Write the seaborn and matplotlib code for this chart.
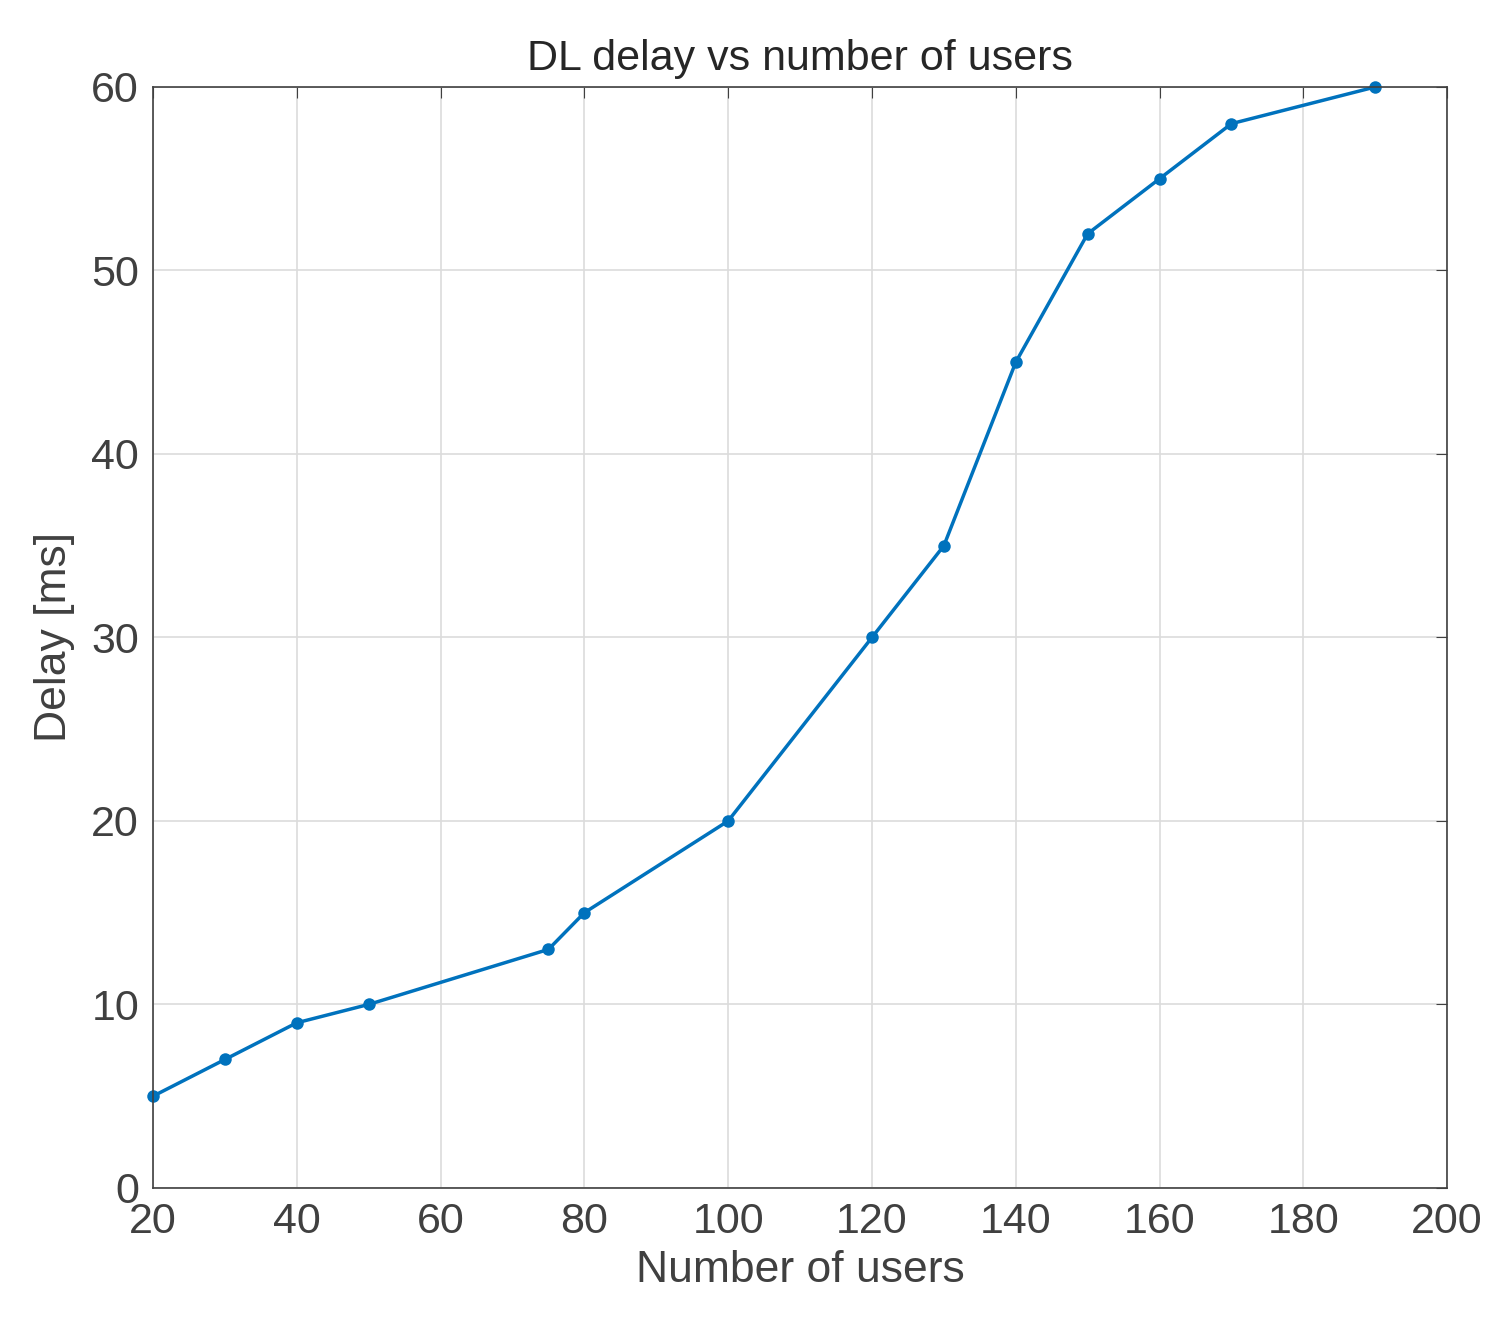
import matplotlib
matplotlib.use("Agg")
import matplotlib.pyplot as plt
import seaborn as sns
import pandas as pd

# values
users = [20, 30, 40, 50, 75, 80, 100, 120, 130, 140, 150, 160, 170, 190]
delay_ms = [5, 7, 9, 10, 13, 15, 20, 30, 35, 45, 52, 55, 58, 60]

df = pd.DataFrame({"users": users, "delay": delay_ms})

sns.set_style("white")
plt.rcParams['font.family'] = ['Liberation Sans', 'DejaVu Sans']

fig = plt.figure(figsize=(14.91, 13.42), dpi=100)
ax = fig.add_axes([0.1026, 0.1148, 0.868, 0.8204])

sns.lineplot(data=df, x="users", y="delay", ax=ax, color="#0072BD",
             linewidth=2.5, marker="o", markersize=9, markeredgewidth=0)
for ln in ax.lines:
    ln.set_clip_on(False)

ax.set_xlim(20, 200)
ax.set_ylim(0, 60)
ax.set_xticks(range(20, 201, 20))
ax.set_yticks(range(0, 61, 10))
ax.grid(True, color="#dcdcdc", linewidth=1.2)
ax.tick_params(direction="in", labelsize=31, colors="#404040", length=8,
               top=True, right=True, pad=10)
for s in ax.spines.values():
    s.set_color("#404040")
    s.set_linewidth(1.2)

ax.set_title("DL delay vs number of users", fontsize=31, color="#262626", pad=12)
ax.set_xlabel("Number of users", fontsize=32, color="#404040", labelpad=6)
ax.set_ylabel("Delay [ms]", fontsize=32, color="#404040", labelpad=12)

fig.savefig("out.png", dpi=100)
